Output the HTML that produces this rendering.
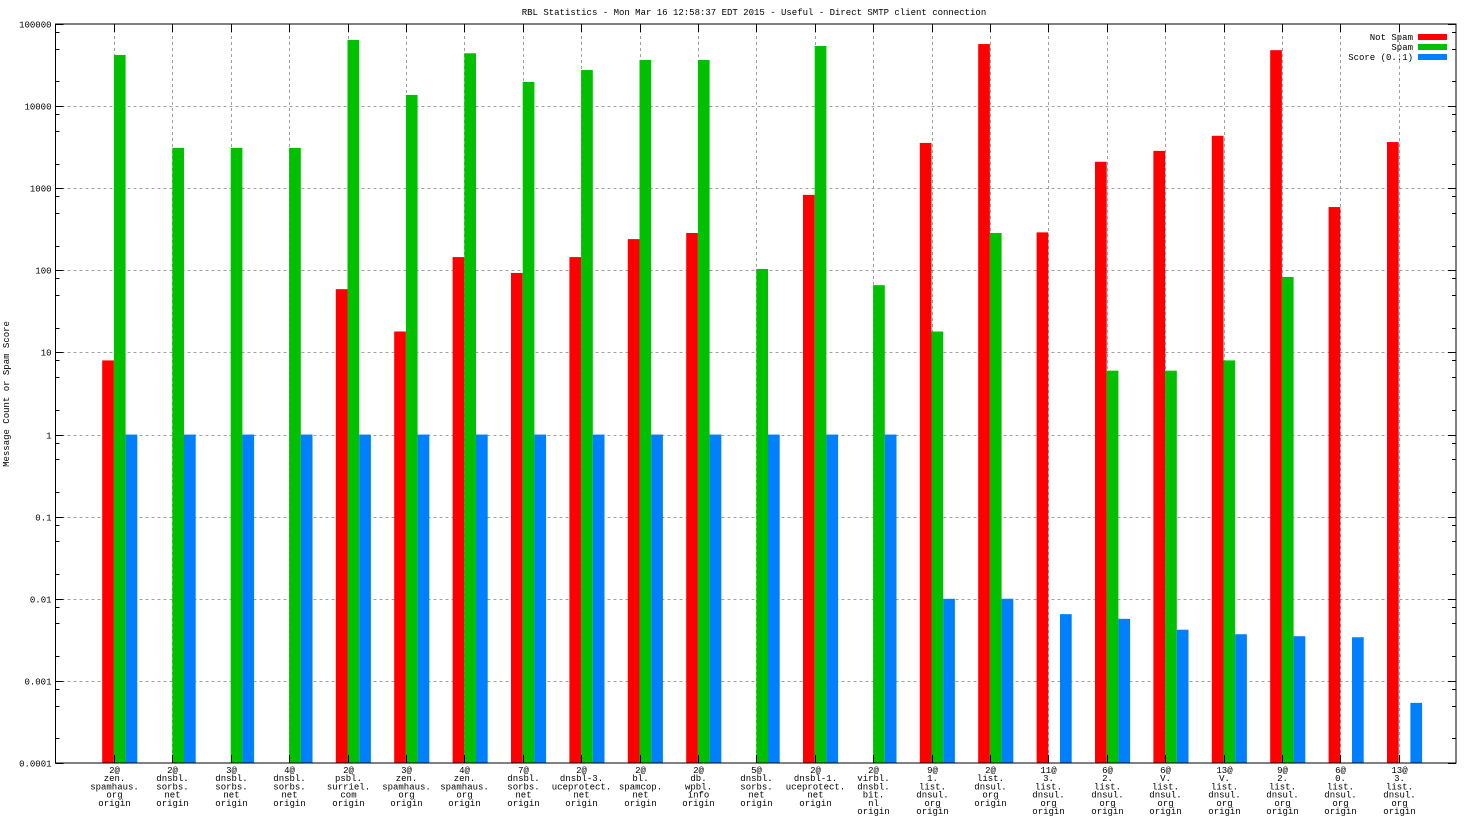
<!DOCTYPE html>
<html><head><meta charset="utf-8"><style>
html,body{margin:0;padding:0;background:#fff;}
svg text{font-family:"Liberation Mono","DejaVu Sans Mono",monospace;font-size:9px;fill:#000;}
</style></head><body>
<svg id="chart" width="1472" height="828" xmlns="http://www.w3.org/2000/svg">
<text x="754" y="15" text-anchor="middle">RBL Statistics - Mon Mar 16 12:58:37 EDT 2015 - Useful - Direct SMTP client connection</text>
<text transform="translate(9,394) rotate(-90)" text-anchor="middle">Message Count or Spam Score</text>
<g id="grid"></g><g id="bars"></g><g id="axes"></g><g id="labels"></g>
<g>
<text x="1413" y="40" text-anchor="end">Not Spam</text>
<rect x="1418" y="34" width="29" height="6" fill="#ff0000"/>
<text x="1413" y="50" text-anchor="end">Spam</text>
<rect x="1418" y="44" width="29" height="6" fill="#00c000"/>
<text x="1413" y="60" text-anchor="end">Score (0..1)</text>
<rect x="1418" y="54" width="29" height="6" fill="#0080ff"/>
</g>
</svg>
<script>
const categories=[["2@","zen.","spamhaus.","org","origin"],["2@","dnsbl.","sorbs.","net","origin"],["3@","dnsbl.","sorbs.","net","origin"],["4@","dnsbl.","sorbs.","net","origin"],["2@","psbl.","surriel.","com","origin"],["3@","zen.","spamhaus.","org","origin"],["4@","zen.","spamhaus.","org","origin"],["7@","dnsbl.","sorbs.","net","origin"],["2@","dnsbl-3.","uceprotect.","net","origin"],["2@","bl.","spamcop.","net","origin"],["2@","db.","wpbl.","info","origin"],["5@","dnsbl.","sorbs.","net","origin"],["2@","dnsbl-1.","uceprotect.","net","origin"],["2@","virbl.","dnsbl.","bit.","nl","origin"],["9@","1.","list.","dnsul.","org","origin"],["2@","list.","dnsul.","org","origin"],["11@","3.","list.","dnsul.","org","origin"],["6@","2.","list.","dnsul.","org","origin"],["6@","V.","list.","dnsul.","org","origin"],["13@","V.","list.","dnsul.","org","origin"],["9@","2.","list.","dnsul.","org","origin"],["6@","0.","list.","dnsul.","org","origin"],["13@","3.","list.","dnsul.","org","origin"]];
const notSpam=[8,0,0,0,59,18,145,93,145,240,285,0,830,0,3560,57000,290,2100,2850,4350,48000,590,3650];
const spam=[42000,3100,3100,3100,64000,13700,44000,19700,27500,36500,36500,104,54000,66,18,285,0,6,6,8,83,0,0];
const score=[1,1,1,1,1,1,1,1,1,1,1,1,1,1,0.01,0.01,0.0065,0.0057,0.0042,0.0037,0.0035,0.0034,0.00054];
const yTicks=[0.0001,0.001,0.01,0.1,1,10,100,1000,10000,100000];
const yTickLabels=["0.0001","0.001","0.01","0.1","1","10","100","1000","10000","100000"];
const L=55.5,R=1456,T=24,B=763,STEP=58.4,BW=11.7;
function x(i){return L+STEP*(i+1);}
function y(v){return B-(B-T)*(Math.log10(v)+4)/9;}
const NS="http://www.w3.org/2000/svg";
function mk(tag,attrs,parent){const e=document.createElementNS(NS,tag);for(const k in attrs)e.setAttribute(k,attrs[k]);parent.appendChild(e);return e;}
const grid=document.getElementById('grid'),bars=document.getElementById('bars'),axes=document.getElementById('axes'),labels=document.getElementById('labels');
yTicks.forEach((v,k)=>{const yy=Math.round(y(v))+0.5;
 if(k>0&&k<yTicks.length-1){const g=mk('line',{x1:L,x2:R,y1:yy,y2:yy,stroke:'#a0a0a0','stroke-dasharray':'3,3'},grid);
 
 }
 mk('line',{x1:L,x2:L+8,y1:yy,y2:yy,stroke:'#000'},axes);mk('line',{x1:R,x2:R-8,y1:yy,y2:yy,stroke:'#000'},axes);
 const t=mk('text',{x:L-4,y:yy+3,'text-anchor':'end'},axes);t.textContent=yTickLabels[k];
 
 
 if(k<yTicks.length-1)[2,5,8].forEach(m=>{const ym=Math.round(y(v*m))+0.5;mk('line',{x1:L,x2:L+4,y1:ym,y2:ym,stroke:'#000'},axes);mk('line',{x1:R,x2:R-4,y1:ym,y2:ym,stroke:'#000'},axes);});
});
categories.forEach((c,i)=>{const xx=Math.round(x(i))+0.5;
 const g=mk('line',{x1:xx,x2:xx,y1:T,y2:B,stroke:'#a0a0a0','stroke-dasharray':'3,3'},grid);
 
 
 mk('line',{x1:xx,x2:xx,y1:T,y2:T+8,stroke:'#000'},axes);mk('line',{x1:xx,x2:xx,y1:B,y2:B-8,stroke:'#000'},axes);
 const t=mk('text',{x:xx,y:B+10,'text-anchor':'middle'},labels);
 
 
 c.forEach((s,j)=>{const ts=mk('tspan',{x:xx,dy:j?8.2:0},t);ts.textContent=s;});
 [[notSpam,'#ff0000',-1,'bar-not-spam'],[spam,'#00c000',0,'bar-spam'],[score,'#0080ff',1,'bar-score']].forEach(([arr,col,off,nm])=>{
  const v=arr[i];if(!v)return;const top=y(v);
  const r=mk('rect',{x:x(i)+off*BW,y:top,width:BW,height:B-top,fill:col},bars);
  
  
 });
});
const fr=mk('rect',{x:L,y:T,width:R-L,height:B-T,fill:'none',stroke:'#000','stroke-width':1},axes);


</script>
</body></html>
